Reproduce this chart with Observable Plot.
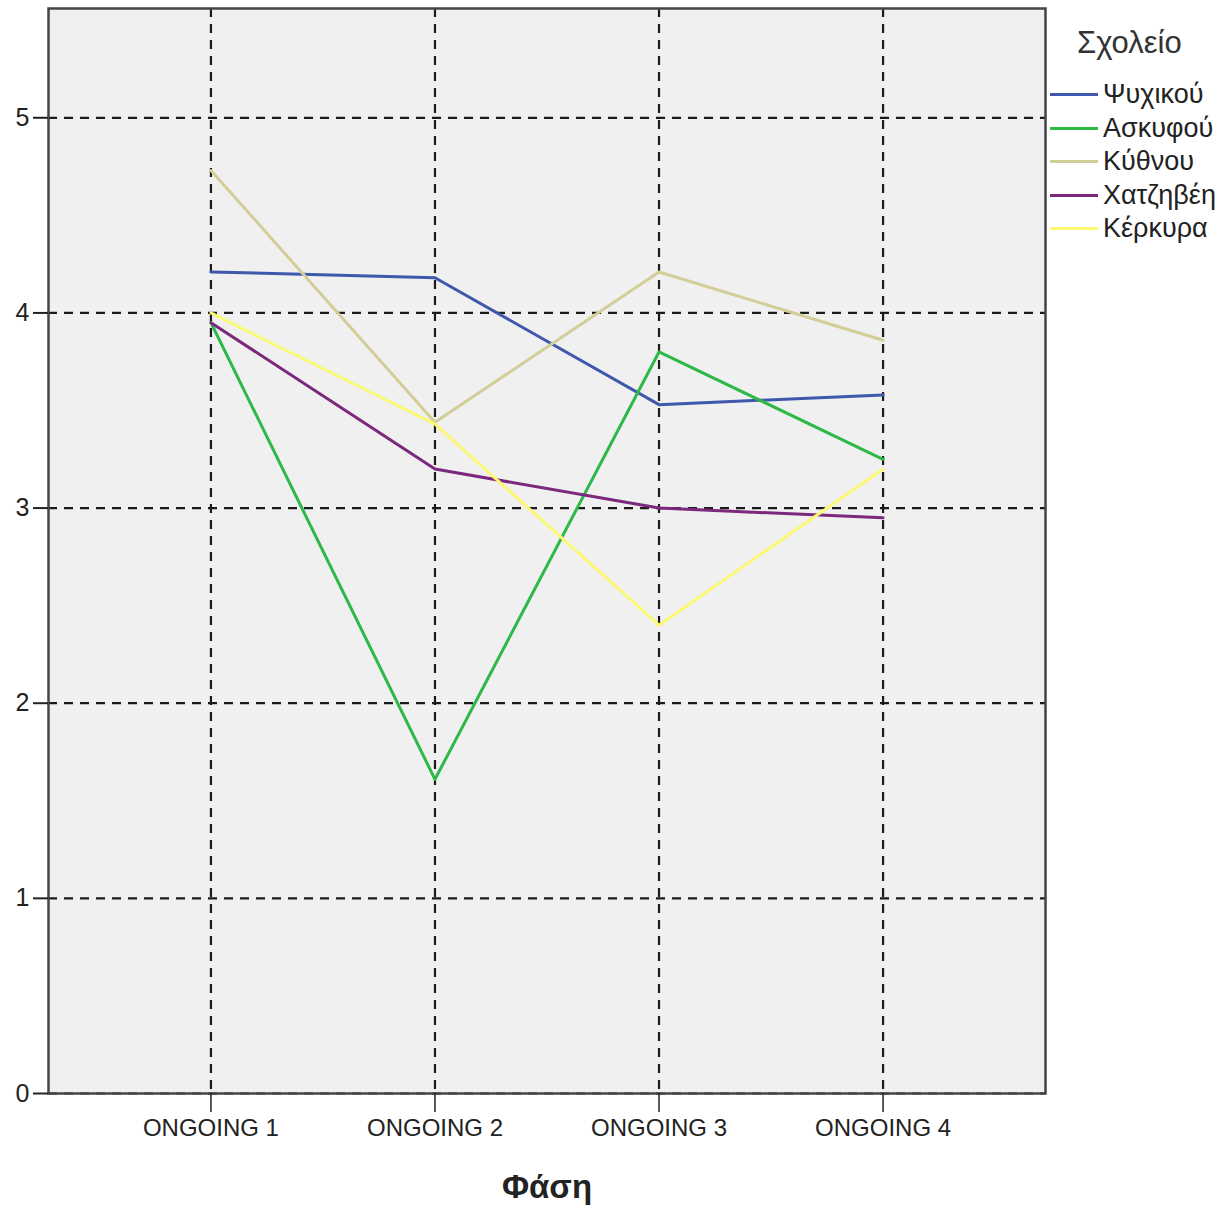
<!DOCTYPE html>
<html>
<head>
<meta charset="utf-8">
<script src="https://cdn.jsdelivr.net/npm/d3@7"></script>
<script src="https://cdn.jsdelivr.net/npm/@observablehq/plot@0.6"></script>
<style>
  html, body { margin: 0; padding: 0; background: #fff; }
  #wrap { position: relative; width: 1224px; height: 1209px; font-family: "Liberation Sans", Arial, sans-serif; }
  #legend { position: absolute; left: 1050px; top: 25px; color: #222; }
  #legend .title { font-size: 31px; margin-left: 27px; margin-bottom: 17px; color: #333; }
  #legend .item { display: flex; align-items: center; height: 33.5px; font-size: 27px; }
  #legend .sw { width: 48px; height: 3px; margin-right: 5px; }
</style>
</head>
<body>
<div id="wrap"></div>
<script>
const phases = ["ONGOING 1", "ONGOING 2", "ONGOING 3", "ONGOING 4"];
const schools = ["Ψυχικού", "Ασκυφού", "Κύθνου", "Χατζηβέη", "Κέρκυρα"];
const colors = ["#3E58AC", "#2EB848", "#D3CE97", "#7C287D", "#FBF873"];
const psychikou = [4.21, 4.18, 3.53, 3.58];
const askyfou   = [3.95, 1.61, 3.80, 3.25];
const kythnou   = [4.73, 3.44, 4.21, 3.86];
const chatzivei = [3.95, 3.20, 3.00, 2.95];
const kerkyra   = [4.00, 3.43, 2.40, 3.20];
const yTicks = [0, 1, 2, 3, 4, 5];

const series = [psychikou, askyfou, kythnou, chatzivei, kerkyra];
const data = [];
series.forEach((vals, i) => vals.forEach((v, j) => data.push({school: schools[i], phase: phases[j], value: v})));

const chart = Plot.plot({
  width: 1224,
  height: 1209,
  marginLeft: 48,
  marginTop: 8,
  marginRight: 179,
  marginBottom: 116,
  style: {fontFamily: '"Liberation Sans", Arial, sans-serif', background: "transparent", color: "#222"},
  x: {type: "point", domain: phases, padding: 0.725, round: false},
  y: {domain: [0, 5.56]},
  color: {domain: schools, range: colors},
  marks: [
    Plot.frame({fill: "#f0f0f0", stroke: null}),
    Plot.gridY(yTicks, {stroke: "#1a1a1a", strokeOpacity: 1, strokeWidth: 2.2, strokeDasharray: "9,7"}),
    Plot.gridX(phases, {stroke: "#1a1a1a", strokeOpacity: 1, strokeWidth: 2.2, strokeDasharray: "9,7"}),
    Plot.line(data, {x: "phase", y: "value", z: "school", stroke: "school", strokeWidth: 3}),
    Plot.frame({stroke: "#444", strokeWidth: 2.5}),
    Plot.axisY(yTicks, {tickSize: 15, tickPadding: 4, fontSize: 25, tickFormat: "d", label: null, stroke: "#222", strokeWidth: 2}),
    Plot.axisX(phases, {tickSize: 19, tickPadding: 6, fontSize: 24, label: null, stroke: "#222", strokeWidth: 1.5}),
    Plot.text(["Φάση"], {frameAnchor: "bottom", dy: 104, fontSize: 33, fontWeight: "bold", fill: "#222"})
  ]
});

const wrap = document.getElementById("wrap");
wrap.appendChild(chart);

const legend = document.createElement("div");
legend.id = "legend";
const t = document.createElement("div");
t.className = "title";
t.textContent = "Σχολείο";
legend.appendChild(t);
schools.forEach((s, i) => {
  const it = document.createElement("div");
  it.className = "item";
  const sw = document.createElement("span");
  sw.className = "sw";
  sw.style.background = colors[i];
  const lab = document.createElement("span");
  lab.textContent = s;
  it.appendChild(sw); it.appendChild(lab);
  legend.appendChild(it);
});
wrap.appendChild(legend);
</script>
</body>
</html>
